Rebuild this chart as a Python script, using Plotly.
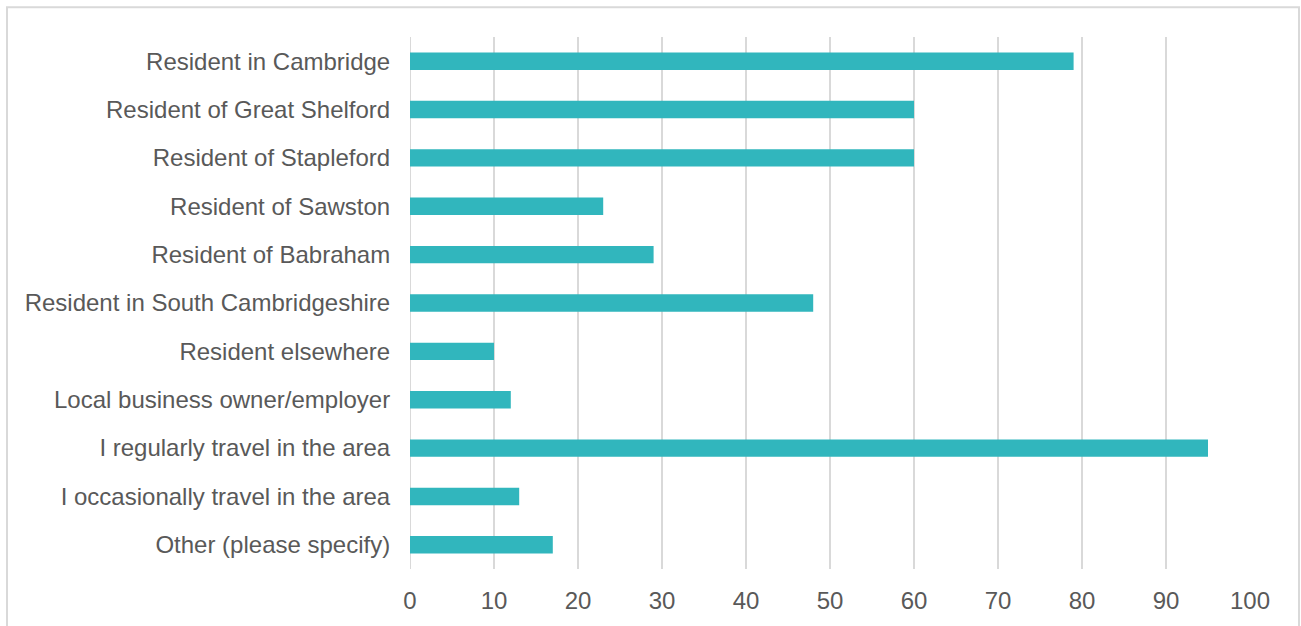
import plotly.graph_objects as go

categories = [
    "Resident in Cambridge",
    "Resident of Great Shelford",
    "Resident of Stapleford",
    "Resident of Sawston",
    "Resident of Babraham",
    "Resident in South Cambridgeshire",
    "Resident elsewhere",
    "Local business owner/employer",
    "I regularly travel in the area",
    "I occasionally travel in the area",
    "Other (please specify)",
]
values = [79, 60, 60, 23, 29, 48, 10, 12, 95, 13, 17]
x_ticks = [0, 10, 20, 30, 40, 50, 60, 70, 80, 90, 100]

W, H = 1301, 626
L, R, T, B = 410, 51, 37, 54
pw, ph = W - L - R, H - T - B

fig = go.Figure(
    go.Bar(
        y=categories,
        x=values,
        orientation="h",
        marker=dict(color="#31B6BD", line=dict(width=0)),
        width=0.36,
    )
)

text_font = dict(family="Arial, Liberation Sans, sans-serif", size=24, color="#595959")

fig.update_layout(
    width=W,
    height=H,
    margin=dict(l=L, r=R, t=T, b=B),
    paper_bgcolor="white",
    plot_bgcolor="white",
    showlegend=False,
    font=text_font,
    xaxis=dict(
        range=[0, 100],
        tickvals=x_ticks,
        showgrid=True,
        gridcolor="#D9D9D9",
        gridwidth=2,
        zeroline=False,
        showline=False,
        ticks="outside",
        ticklen=10,
        tickcolor="rgba(0,0,0,0)",
        tickfont=text_font,
    ),
    yaxis=dict(
        autorange="reversed",
        categoryorder="array",
        categoryarray=categories,
        showgrid=False,
        zeroline=False,
        showline=False,
        ticks="outside",
        ticklen=14,
        tickcolor="rgba(0,0,0,0)",
        tickfont=text_font,
    ),
)

# gridline at zero, drawn beneath the bars
fig.add_shape(
    type="line",
    xref="x",
    yref="paper",
    x0=0,
    x1=0,
    y0=0,
    y1=1,
    line=dict(color="#D9D9D9", width=2),
    layer="below",
)

# outer chart border
fig.add_shape(
    type="rect",
    xref="paper",
    yref="paper",
    x0=(7 - L) / pw,
    x1=(1299 - L) / pw,
    y0=(H - B - 660) / ph,
    y1=(H - B - 7) / ph,
    line=dict(color="#D9D9D9", width=2),
    fillcolor="rgba(0,0,0,0)",
    layer="below",
)

fig.write_html("out.html")
